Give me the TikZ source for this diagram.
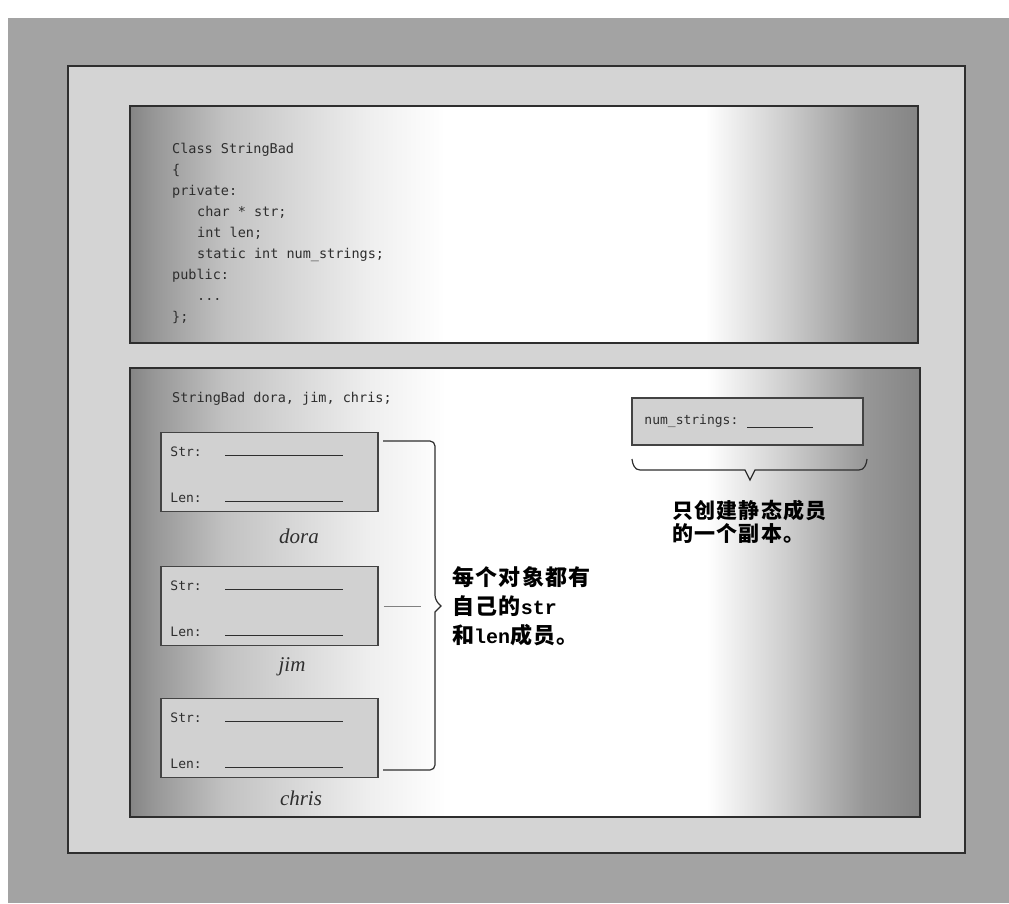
\documentclass[tikz,border=0pt]{standalone}
\usepackage{fontspec}
\setmainfont{Liberation Serif}
\setmonofont{DejaVu Sans Mono}
\newfontfamily\cjk[LetterSpace=6]{Noto Sans CJK SC}
\newfontfamily\codeb{Liberation Mono}
\definecolor{bgout}{gray}{0.64}
\definecolor{framefill}{gray}{0.83}
\definecolor{pedge}{gray}{0.52}
\colorlet{pedgeA}{pedge!85!white}
\colorlet{pedgeB}{pedge!50!white}
\colorlet{pedgeC}{pedge!14!white}
\colorlet{pedgeD}{pedge!40!white}
\definecolor{boxfill}{gray}{0.82}
\definecolor{ink}{gray}{0.18}
\pgfdeclarehorizontalshading{panelshade}{100bp}{color(0bp)=(pedge); color(25bp)=(pedge); color(26.5bp)=(pedgeA); color(31bp)=(pedgeB); color(40bp)=(pedgeC); color(45bp)=(white); color(61.5bp)=(white); color(66.5bp)=(pedgeD); color(71.5bp)=(pedgeA); color(75bp)=(pedge); color(100bp)=(pedge)}
\begin{document}
\begin{tikzpicture}[x=1pt,y=-1pt,
  framebox/.style={draw=ink, line width=1.4pt, fill=framefill},
  panel/.style={draw=ink, line width=1.4pt, shading=panelshade, inner sep=0, outer sep=0},
  code/.style={font=\ttfamily\fontsize{13.5}{16}\selectfont, anchor=base west, inner sep=0, text=ink},
  objbox/.style={draw=ink!90, line width=1.5pt, fill=boxfill, minimum width=217pt, minimum height=79pt, inner sep=0},
  fieldlabel/.style={font=\ttfamily\fontsize{13}{15}\selectfont, anchor=west, inner sep=0, text=ink},
  blank/.style={draw=ink, line width=1pt},
  objname/.style={font=\itshape\fontsize{21}{24}\selectfont, inner sep=0, text=ink},
  bracepath/.style={draw=ink, line width=1.2pt},
  conn/.style={draw=gray, line width=0.9pt},
  note/.style={font=\fontsize{22}{29}\selectfont, align=left, anchor=west, inner sep=0, text=black}
]
\useasboundingbox (0,0) rectangle (1009,903);
\fill[white] (0,0) rectangle (1009,903);
\fill[bgout] (8,18) rectangle (1009,903);
\node[framebox, minimum width=897pt, minimum height=787pt, inner sep=0] (frame) at (516.5,459.5) {};
% code panel
\node[panel, minimum width=788pt, minimum height=237pt] (codepanel) at (524,224.5) {};
\node[code] (c1) at (172,153) {Class StringBad};
\node[code] (c2) at (172,174) {\{};
\node[code] (c3) at (172,195) {private:};
\node[code] (c4) at (197,216) {char * str;};
\node[code] (c5) at (197,237) {int len;};
\node[code] (c6) at (197,258) {static int num\_strings;};
\node[code] (c7) at (172,279) {public:};
\node[code] (c8) at (197,300) {...};
\node[code] (c9) at (172,321) {\};};
% object panel
\node[panel, minimum width=790pt, minimum height=449pt] (objpanel) at (525,592.5) {};
\node[code] (decl) at (172,402) {StringBad dora, jim, chris;};
% object boxes
\foreach \nm/\cy/\ly/\lx in {dora/472/536/299, jim/606/667/292, chris/738/798/301}{
  \node[objbox] (\nm) at (269.5,\cy) {};
  \node[fieldlabel] (\nm str) at ([xshift=10pt,yshift=20pt]\nm.west) {Str:};
  \node[fieldlabel] (\nm len) at ([xshift=10pt,yshift=-26pt]\nm.west) {Len:};
  \draw[blank] ([xshift=-44.5pt,yshift=17pt]\nm.center) -- ([xshift=73.5pt,yshift=17pt]\nm.center);
  \draw[blank] ([xshift=-44.5pt,yshift=-29pt]\nm.center) -- ([xshift=73.5pt,yshift=-29pt]\nm.center);
  \node[objname] (\nm name) at (\lx,\ly) {\nm};
}
% brace for the objects
\coordinate (btip) at (441,606);
\coordinate (bracein) at (421,606);
\draw[bracepath, rounded corners=5pt] (383,441) -- (435,441) -- (435,600) [sharp corners] -- (btip) -- (435,612) [rounded corners=5pt] -- (435,770) -- (383,770);
\draw[conn] ([xshift=5pt]jim.east) -- (bracein);
\node[note] (eachnote) at (452,606) {{\cjk\bfseries 每个对象都有}\\{\cjk\bfseries 自己的}{\codeb\bfseries\fontsize{20}{29}\selectfont str}\\{\cjk\bfseries 和}{\codeb\bfseries\fontsize{20}{29}\selectfont len}{\cjk\bfseries 成员。}};
% static member
\node[objbox, minimum width=231pt, minimum height=47pt] (numbox) at (747.5,421.5) {};
\node[fieldlabel] (numlabel) at ([xshift=13pt,yshift=0pt]numbox.west) {num\_strings:};
\draw[blank] (747,427) -- (813,427);
\coordinate (ntip) at (750,480);
\draw[bracepath] (632,459) to[out=-85,in=180] (640,470) -- (745,470) -- (ntip) -- (755,470) -- (859,470) to[out=0,in=-95] (867,459);
\node[note, font=\fontsize{21}{23.5}\selectfont] (staticnote) at (672,522) {{\cjk\bfseries 只创建静态成员}\\{\cjk\bfseries 的一个副本。}};
\end{tikzpicture}
\end{document}
